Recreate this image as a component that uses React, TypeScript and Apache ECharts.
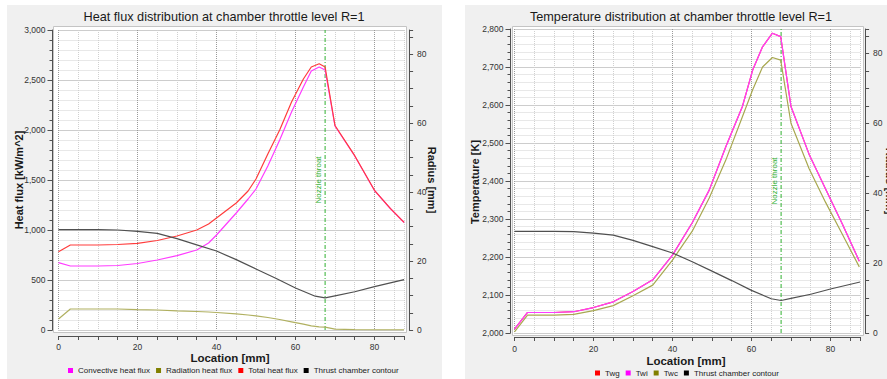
import React, { useEffect, useRef } from "react";
import * as echarts from "echarts";

// ---------- data ----------
// Heat flux chart
const heatLocation = [0, 3, 10, 15, 20, 25, 30, 35, 38, 40, 45, 48, 50, 53, 56, 59, 62, 64, 66, 67.5, 70, 75, 80, 84, 87.5];
const convectiveHeatFlux = [673, 640, 640, 645, 665, 700, 743, 800, 870, 950, 1170, 1310, 1410, 1640, 1900, 2180, 2430, 2590, 2630, 2600, 2040, 1740, 1395, 1215, 1075];
const radiationHeatFlux = [110, 210, 210, 210, 203, 200, 192, 185, 180, 175, 162, 150, 142, 125, 105, 82, 58, 42, 32, 28, 8, 3, 2, 1, 1];
const totalHeatFlux = [783, 850, 850, 855, 867, 895, 940, 1000, 1060, 1120, 1270, 1390, 1510, 1760, 2000, 2280, 2510, 2630, 2662, 2630, 2045, 1743, 1397, 1216, 1076];

// Thrust chamber contour (radius, mm)
const contourLocation = [0, 10, 15, 20, 25, 30, 35, 40, 45, 50, 55, 60, 65, 67.5, 70, 75, 80, 87.5];
const contourRadius = [29.1, 29.1, 29.0, 28.6, 28.0, 26.5, 24.7, 22.9, 20.4, 17.7, 15.0, 12.2, 9.8, 9.3, 9.9, 11.1, 12.6, 14.6];

// Temperature chart
const tempLocation = [0, 3.3, 10, 15, 20, 25, 30, 35, 40, 45, 49.3, 53.5, 57.7, 60.3, 62.8, 65.3, 67.4, 70, 74.6, 78.7, 83, 87.3];
const twg = [2010, 2054, 2054, 2056, 2067, 2082, 2109, 2140, 2205, 2290, 2376, 2490, 2596, 2692, 2753, 2789, 2780, 2596, 2470, 2380, 2287, 2189];
const twi = [2010, 2054, 2054, 2056, 2067, 2082, 2109, 2140, 2205, 2290, 2376, 2490, 2596, 2692, 2753, 2789, 2780, 2596, 2470, 2380, 2287, 2189];
const twc = [2003, 2047, 2047, 2049, 2059, 2072, 2098, 2126, 2192, 2268, 2355, 2455, 2569, 2640, 2700, 2725, 2718, 2552, 2432, 2345, 2260, 2174];

// Nozzle throat position and the axis ranges
const throatLocation = 67.5;
const heatRange = [0, 3000];
const tempRange = [2000, 2800];
const radiusMax = 87;
const locationMax = 87.5;

const heatLegend = ["Convective heat flux", "Radiation heat flux", "Total heat flux", "Thrust chamber contour"];
const tempLegend = ["Twg", "Twi", "Twc", "Thrust chamber contour"];

// ---------- styling ----------
const FONT = "'Liberation Sans', Arial, sans-serif";
const AXIS = "#505050";
const THROAT = "#2fb02f";
const labelBase = { color: "#333", fontSize: 8.5, fontFamily: FONT };

function pairs(xs: number[], ys: number[]) {
  return xs.map((x, i) => [x, ys[i]]);
}

function xAxisFor(gridIndex: number, offset: number, margin: number) {
  return {
    type: "value",
    gridIndex,
    min: 0,
    max: locationMax,
    interval: 5,
    offset,
    axisLine: { show: true, onZero: false, lineStyle: { color: AXIS } },
    axisTick: { show: true, length: 4, lineStyle: { color: AXIS } },
    axisLabel: { ...labelBase, margin, formatter: (v: number) => (v % 20 === 0 ? String(v) : "") },
    splitLine: {
      show: true,
      lineStyle: { type: "dotted", width: 1, color: ["#9a9a9a", "#d0d0d0", "#d0d0d0", "#d0d0d0"] },
    },
  };
}

function radiusAxis(gridIndex: number, offset: number) {
  return {
    type: "value",
    gridIndex,
    position: "right",
    min: 0,
    max: radiusMax,
    interval: 5,
    offset,
    axisLine: { show: true, onZero: false, lineStyle: { color: AXIS } },
    axisTick: { show: true, length: 4, lineStyle: { color: AXIS } },
    axisLabel: { ...labelBase, margin: 8, formatter: (v: number) => (v % 20 === 0 ? String(v) : "") },
    splitLine: { show: false },
  };
}

function valueAxisLeft(gridIndex: number, range: number[], interval: number, offset: number) {
  return {
    type: "value",
    gridIndex,
    position: "left",
    min: range[0],
    max: range[1],
    interval,
    offset,
    axisLine: { show: true, onZero: false, lineStyle: { color: AXIS } },
    axisTick: { show: true, length: 5, lineStyle: { color: AXIS } },
    minorTick: { show: true, splitNumber: 5, length: 3, lineStyle: { color: AXIS } },
    axisLabel: { ...labelBase, margin: 7, formatter: (v: number) => v.toLocaleString("en-US") },
    splitLine: { show: true, lineStyle: { type: "dotted", color: "#9a9a9a" } },
    minorSplitLine: { show: true, lineStyle: { type: "dotted", color: "#d0d0d0" } },
  };
}

function line(
  name: string,
  xs: number[],
  ys: number[],
  xAxisIndex: number,
  yAxisIndex: number,
  itemColor: string,
  lineColor: string,
  extra: any = {}
) {
  return {
    type: "line",
    name,
    color: itemColor,
    data: pairs(xs, ys),
    xAxisIndex,
    yAxisIndex,
    symbol: "none",
    showSymbol: false,
    silent: true,
    itemStyle: { color: itemColor },
    lineStyle: { color: lineColor, width: 1.2 },
    emphasis: { disabled: true },
    ...extra,
  };
}

function throatSeries(name: string, xAxisIndex: number, yAxisIndex: number, range: number[]) {
  return line(name, [throatLocation, throatLocation], range, xAxisIndex, yAxisIndex, THROAT, THROAT, {
    lineStyle: { color: THROAT, width: 1, type: [4, 2, 1, 2] },
    z: 1,
  });
}

function txt(text: string, x: number, y: number, size: number, bold: boolean, rotation = 0, fill = "#1a1a1a") {
  return {
    type: "text",
    x,
    y,
    rotation,
    z: 5,
    style: {
      text,
      fontSize: size,
      fontWeight: bold ? "bold" : "normal",
      fontFamily: FONT,
      fill,
      align: "center",
      verticalAlign: "middle",
    },
  };
}

export default function App() {
  const ref = useRef<HTMLDivElement>(null);
  useEffect(() => {
    const chart = echarts.init(ref.current!, null, { renderer: "svg" });
    const legendBase = {
      orient: "horizontal",
      icon: "rect",
      itemWidth: 5,
      itemHeight: 5,
      itemGap: 6,
      padding: 0,
      selectedMode: false,
      textStyle: { fontSize: 8, fontFamily: FONT, color: "#222" },
    };
    const baseElements: any[] = [
      { type: "rect", z: -20, shape: { x: 7, y: 5, width: 435, height: 374 }, style: { fill: "#f0f0f0" } },
      { type: "rect", z: -20, shape: { x: 465, y: 5, width: 422, height: 374 }, style: { fill: "#f0f0f0" } },
      { type: "rect", z: -10, shape: { x: 53.5, y: 26.5, width: 353, height: 306 }, style: { fill: "#ffffff", stroke: "#c4c4c4", lineWidth: 1 } },
      { type: "rect", z: -10, shape: { x: 512.5, y: 26.5, width: 351, height: 309 }, style: { fill: "#ffffff", stroke: "#c4c4c4", lineWidth: 1 } },
      txt("Heat flux distribution at chamber throttle level R=1", 224, 16.5, 12.7, false),
      txt("Temperature distribution at chamber throttle level R=1", 681, 16.5, 12.7, false),
      txt("Heat flux [kW/m^2]", 18.5, 180, 11, true, Math.PI / 2),
      txt("Location [mm]", 230, 358, 11.5, true),
      txt("Radius [mm]", 432, 180, 11, true, -Math.PI / 2),
      txt("Temperature [K]", 475, 182, 11, true, Math.PI / 2),
      txt("Location [mm]", 686, 361, 11.5, true),
      txt("Radius [mm]", 890, 181, 11, true, -Math.PI / 2),
    ];
    const option: any = {
      animation: false,
      backgroundColor: "#ffffff",
      grid: [
        { left: 58.5, top: 30, width: 345.6, height: 300 },
        { left: 514.5, top: 29, width: 345.6, height: 304 },
      ],
      xAxis: [xAxisFor(0, 6, 6), xAxisFor(1, 4, 7)],
      yAxis: [
        valueAxisLeft(0, heatRange, 500, 6),
        radiusAxis(0, 5),
        valueAxisLeft(1, tempRange, 100, 4),
        radiusAxis(1, 5),
      ],
      legend: [
        { ...legendBase, data: heatLegend, left: 68, top: 366.5 },
        { ...legendBase, data: tempLegend, left: 595, top: 369 },
      ],
      graphic: { elements: baseElements },
      series: [
        throatSeries("Nozzle throat (heat flux)", 0, 0, heatRange),
        line("Convective heat flux", heatLocation, convectiveHeatFlux, 0, 0, "#ff00ff", "#ff3cff"),
        line("Radiation heat flux", heatLocation, radiationHeatFlux, 0, 0, "#808000", "#b0b060"),
        line("Total heat flux", heatLocation, totalHeatFlux, 0, 0, "#ff0000", "#ff3c3c"),
        line("Thrust chamber contour", contourLocation, contourRadius, 0, 1, "#000000", "#505050"),
        throatSeries("Nozzle throat (temperature)", 1, 2, tempRange),
        line("Twg", tempLocation, twg, 1, 2, "#ff0000", "#ff3c3c"),
        line("Twi", tempLocation, twi, 1, 2, "#ff00ff", "#ff3cff"),
        line("Twc", tempLocation, twc, 1, 2, "#808000", "#a8a850"),
        line("Thrust chamber contour", contourLocation, contourRadius, 1, 3, "#000000", "#505050"),
      ],
    };
    chart.setOption(option);
    // place the "Nozzle throat" labels beside the throat lines, through the chart's own scales
    const p0 = chart.convertToPixel({ gridIndex: 0 } as any, [throatLocation, (heatRange[0] + heatRange[1]) / 2]) as number[];
    const p1 = chart.convertToPixel({ gridIndex: 1 } as any, [throatLocation, (tempRange[0] + tempRange[1]) / 2]) as number[];
    chart.setOption({
      graphic: {
        elements: [
          ...baseElements,
          txt("Nozzle throat", p0[0] - 6.8, p0[1], 8, false, Math.PI / 2, THROAT),
          txt("Nozzle throat", p1[0] - 6.8, p1[1], 8, false, Math.PI / 2, THROAT),
        ],
      },
    });
    return () => chart.dispose();
  }, []);
  return <div ref={ref} style={{ position: "absolute", left: 0, top: 0, width: 887, height: 379 }} />;
}
